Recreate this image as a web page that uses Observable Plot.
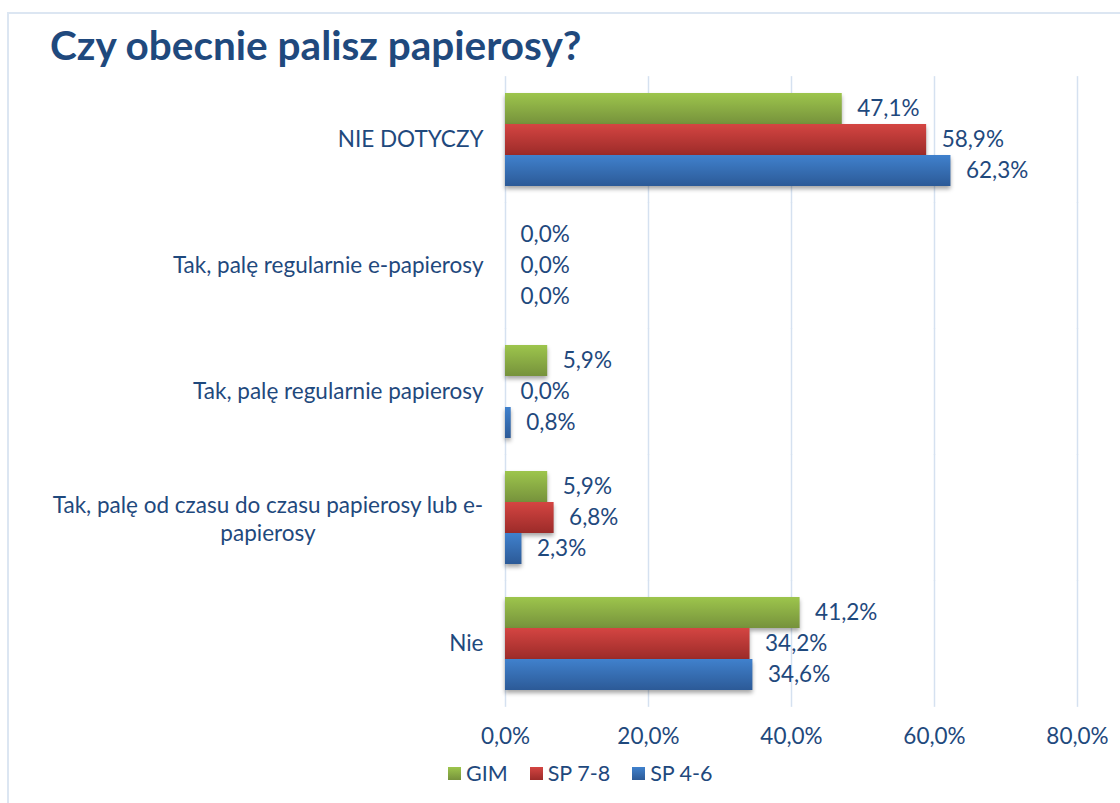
<!DOCTYPE html>
<html><head><meta charset="utf-8">
<script src="https://cdn.jsdelivr.net/npm/d3@7"></script>
<script src="https://cdn.jsdelivr.net/npm/@observablehq/plot@0.6"></script>
<style>
html,body{margin:0;padding:0;background:#fff;width:1120px;height:803px;overflow:hidden;font-family:Lato,sans-serif;}
#frame{position:absolute;left:7px;top:12px;width:1200px;height:900px;border:2px solid #DCE6F2;box-sizing:border-box;}
#title{position:absolute;left:50px;top:21px;font-size:40.5px;font-weight:bold;color:#1F497D;line-height:1.2;}
#chart{position:absolute;left:0;top:0;}
#legend{position:absolute;left:448px;top:759px;font-size:21.5px;color:#1F497D;display:flex;align-items:center;line-height:28px;}
#legend .item{display:flex;align-items:center;margin-right:22px;}
#legend .sw{width:13px;height:13px;margin-right:5px;}
g[aria-label="bar"] rect{filter:drop-shadow(0 3px 2px rgba(0,0,0,0.35));}
</style></head>
<body>
<div id="frame"></div>
<div id="chart"></div>
<div id="title">Czy obecnie palisz papierosy?</div>
<div id="legend"></div>
<script>
// ---- data ----
const categories = [
  "NIE DOTYCZY",
  "Tak, palę regularnie e-papierosy",
  "Tak, palę regularnie papierosy",
  "Tak, palę od czasu do czasu papierosy lub e-papierosy",
  "Nie"
];
const categoryLabels = [
  "NIE DOTYCZY",
  "Tak, palę regularnie e-papierosy",
  "Tak, palę regularnie papierosy",
  "Tak, palę od czasu do czasu papierosy lub e-\npapierosy",
  "Nie"
];
const series = ["GIM", "SP 7-8", "SP 4-6"];
const valuesGIM  = [47.1, 0.0, 5.9, 5.9, 41.2];
const valuesSP78 = [58.9, 0.0, 0.0, 6.8, 34.2];
const valuesSP46 = [62.3, 0.0, 0.8, 2.3, 34.6];
const xTicks = [0, 20, 40, 60, 80];

const gradients = {
  "GIM":    ["#9DC54C", "#76923C"],
  "SP 7-8": ["#D44542", "#9C2B29"],
  "SP 4-6": ["#4081CD", "#2C5A97"]
};
const gradIds = {"GIM": "gGIM", "SP 7-8": "gSP78", "SP 4-6": "gSP46"};

const seriesValues = [valuesGIM, valuesSP78, valuesSP46];
const data = [];
categories.forEach((c, i) => series.forEach((s, j) => data.push({category: c, series: s, value: seriesValues[j][i]})));

const fmt = v => v.toFixed(1).replace(".", ",") + "%";
const labelOf = c => categoryLabels[categories.indexOf(c)];
const textColor = "#1F497D";
const FS = 22.5;

// layout
const W = 1120, H = 770, mT = 74, mB = 62, mL = 505, mR = 43;
const padIn = 0.25, padOut = 0.125;
const step = (H - mT - mB) / (categories.length - padIn + 2 * padOut);
const gridExt = -step * padIn / 2; // extend per-facet grid through the gaps
const labelGap = 22;

const single = categories.filter(c => !labelOf(c).includes("\n"));
const multi = categories.filter(c => labelOf(c).includes("\n"));
const ctx = document.createElement("canvas").getContext("2d");
ctx.font = `${FS}px Lato`;
const halfWidth = c => ctx.measureText(labelOf(c).split("\n")[0]).width / 2;

const marks = [
  Plot.ruleX(xTicks, {stroke: "#D5E1F0", strokeWidth: 1.5, insetTop: gridExt, insetBottom: gridExt}),
  Plot.barX(data, {x: "value", y: "series", fy: "category", fill: "series"}),
  Plot.text(data, {x: "value", y: "series", fy: "category", text: d => fmt(d.value), textAnchor: "start", dx: 15, fill: textColor, fontSize: FS}),
  Plot.axisX(xTicks, {tickSize: 0, tickPadding: 37, tickFormat: fmt, fontSize: FS, fill: textColor, label: null}),
  Plot.text(single, {fy: d => d, text: labelOf, frameAnchor: "left", textAnchor: "end", dx: -labelGap, fill: textColor, fontSize: FS})
];
multi.forEach(c => marks.push(
  Plot.text([c], {fy: d => d, text: labelOf, frameAnchor: "left", textAnchor: "middle", dx: -labelGap - halfWidth(c), lineHeight: 1.25, fill: textColor, fontSize: FS})
));

const svg = Plot.plot({
  width: W, height: H,
  marginLeft: mL, marginRight: mR, marginTop: mT, marginBottom: mB,
  style: {fontFamily: "Lato", fontSize: FS + "px", color: textColor, background: "transparent", overflow: "visible"},
  x: {domain: [0, 80], axis: null},
  fy: {domain: categories, paddingInner: padIn, paddingOuter: padOut, axis: null},
  y: {domain: series, padding: 0, axis: null},
  color: {domain: series, range: series.map(s => `url(#${gradIds[s]})`)},
  marks
});

const defs = document.createElementNS("http://www.w3.org/2000/svg", "defs");
defs.innerHTML = series.map(s => `<linearGradient id="${gradIds[s]}" x1="0" y1="0" x2="0" y2="1"><stop offset="0" stop-color="${gradients[s][0]}"/><stop offset="1" stop-color="${gradients[s][1]}"/></linearGradient>`).join("");
svg.prepend(defs);
document.getElementById("chart").appendChild(svg);

const legend = document.getElementById("legend");
series.forEach(s => {
  const it = document.createElement("div");
  it.className = "item";
  it.innerHTML = `<div class="sw" style="background:linear-gradient(${gradients[s][0]},${gradients[s][1]})"></div><span>${s}</span>`;
  legend.appendChild(it);
});
</script>
</body></html>
